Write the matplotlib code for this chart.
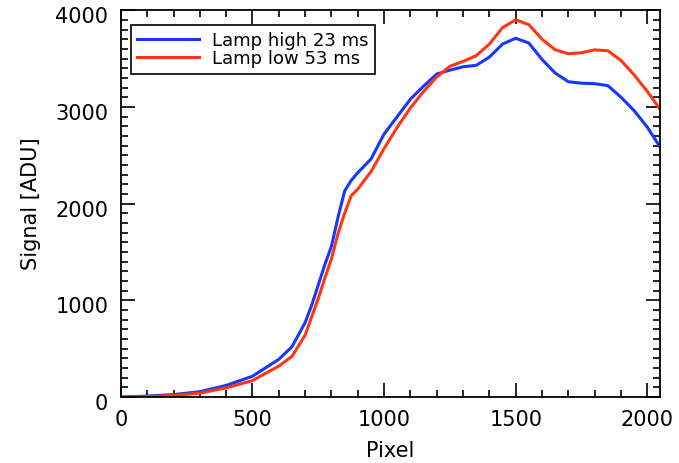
import matplotlib
matplotlib.use('Agg')
import matplotlib.pyplot as plt
from matplotlib.ticker import MultipleLocator
from matplotlib.transforms import ScaledTranslation

# Datos (pixel, senal)
pix_high = [0, 100, 200, 300, 400, 500, 600, 650, 700, 725, 750, 775, 800, 825, 850,
            875, 900, 950, 1000, 1050, 1100, 1150, 1200, 1250, 1300, 1350, 1400,
            1450, 1500, 1550, 1600, 1650, 1700, 1750, 1800, 1850, 1900, 1950,
            2000, 2047]
sig_high = [0, 10, 25, 55, 120, 215, 390, 520, 770, 950, 1160, 1370, 1560, 1860, 2130,
            2240, 2320, 2460, 2720, 2900, 3080, 3215, 3340, 3380, 3415, 3430, 3515,
            3650, 3710, 3660, 3490, 3350, 3260, 3245, 3240, 3220, 3100, 2960,
            2790, 2590]

pix_low = [0, 100, 200, 300, 400, 500, 600, 650, 700, 725, 750, 775, 800, 825, 850,
           875, 900, 950, 1000, 1050, 1100, 1150, 1200, 1250, 1300, 1350, 1400,
           1450, 1500, 1550, 1600, 1650, 1700, 1750, 1800, 1850, 1900, 1950,
           2000, 2047]
sig_low = [0, 5, 15, 40, 95, 170, 320, 420, 640, 830, 1020, 1230, 1430, 1690, 1900,
           2080, 2150, 2330, 2570, 2790, 2990, 3160, 3310, 3420, 3470, 3530, 3650,
           3820, 3900, 3850, 3700, 3590, 3550, 3560, 3590, 3580, 3480, 3330,
           3160, 2980]

labels = ['Lamp high 23 ms', 'Lamp low 53 ms']
colores = ['#1438ff', '#ff3514']

plt.rcParams['font.family'] = 'DejaVu Sans'
fig = plt.figure(figsize=(6.79, 4.63), dpi=100)
ax = fig.add_axes([0.178, 0.1425, 0.794, 0.8355])

ax.plot(pix_high, sig_high, color=colores[0], lw=2.2, label=labels[0])
ax.plot(pix_low, sig_low, color=colores[1], lw=2.2, label=labels[1])

ax.set_xlim(0, 2048)
ax.set_ylim(0, 4000)
ax.xaxis.set_major_locator(MultipleLocator(500))
ax.xaxis.set_minor_locator(MultipleLocator(100))
ax.yaxis.set_major_locator(MultipleLocator(1000))
ax.yaxis.set_minor_locator(MultipleLocator(100))
ax.tick_params(which='both', direction='in', top=True, right=True, width=1.2)
ax.tick_params(which='major', length=10, labelsize=15, pad=9)
ax.tick_params(which='minor', length=5)
for s in ax.spines.values():
    s.set_linewidth(1.3)

# etiquetas del eje y un poco mas abajo, como en IDL
desplaz = ScaledTranslation(0, -5 / 100, fig.dpi_scale_trans)
for lab in ax.get_yticklabels():
    lab.set_transform(lab.get_transform() + desplaz)

ax.set_xlabel('Pixel', fontsize=15, labelpad=8)
ax.set_ylabel('Signal [ADU]', fontsize=15, labelpad=10)

leg = ax.legend(loc='upper left', bbox_to_anchor=(0.0186, 0.961), borderaxespad=0,
                fontsize=13, handlelength=3.4, handletextpad=0.75, labelspacing=0.0,
                fancybox=False, edgecolor='black', framealpha=1,
                borderpad=0.35)
leg.get_frame().set_linewidth(1.2)

fig.savefig('out.png', dpi=100)
